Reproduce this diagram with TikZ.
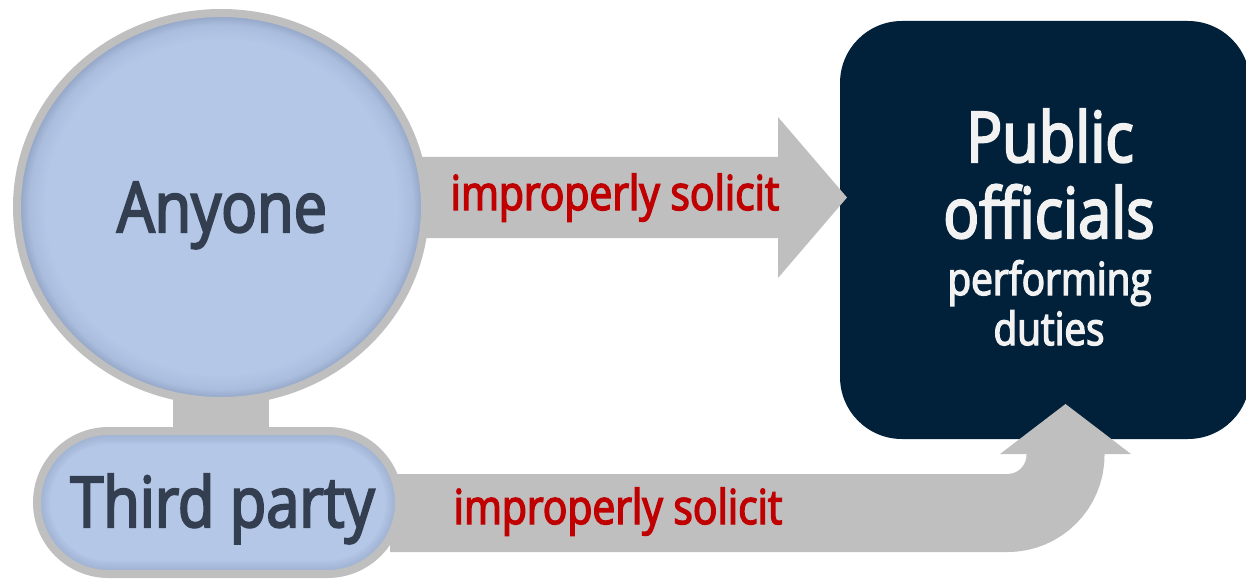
\documentclass[tikz,border=0pt]{standalone}
\usepackage{fontspec}
\setmainfont{Open Sans}[FakeStretch=0.85, FakeBold=3]
\definecolor{blobfill}{HTML}{B4C7E7}
\definecolor{blobrim}{HTML}{8C9FC0}
\definecolor{arrowgray}{HTML}{BFBFBF}
\definecolor{boxdark}{HTML}{01203A}
\definecolor{txtdark}{HTML}{333F50}
\definecolor{txtlight}{HTML}{F2F2F2}
\definecolor{txtred}{HTML}{C00000}
\pgfdeclareradialshading{blobshade}{\pgfpoint{0bp}{0bp}}{color(0bp)=(blobfill); color(21.5bp)=(blobfill); color(23.5bp)=(blobfill!75!blobrim); color(25bp)=(blobrim); color(50bp)=(blobrim)}
\tikzset{
  bigdark/.style={anchor=base, text=txtdark, inner sep=0pt, font=\fontsize{70}{84}\selectfont},
  redlabel/.style={anchor=base, text=txtred, inner sep=0pt, font=\fontsize{48}{56}\selectfont},
  bigwhite/.style={anchor=base, text=txtlight, inner sep=0pt, font=\fontsize{70}{84}\selectfont},
  smallwhite/.style={anchor=base, text=txtlight, inner sep=0pt, font=\fontsize{45.5}{52}\selectfont},
  rimline/.style={draw=blobrim},
  grayborder/.style={draw=arrowgray, line width=8pt},
}
\begin{document}
\begin{tikzpicture}[x=1pt,y=-1pt]
\useasboundingbox (0,0) rectangle (1246,580);
% dark box
\fill[boxdark, rounded corners=62pt] (840,21) rectangle (1250,439);
% arrow 1
\fill[arrowgray] (410,157) -- (778,157) -- (778,117) -- (847,197.5) -- (778,278) -- (778,238) -- (410,238) -- cycle;
% arrow 2
\draw[arrowgray, line width=78pt, rounded corners=58pt] (390,513) -- (1065.5,513) -- (1065.5,452);
\fill[arrowgray] (1000,454) -- (1065.5,404) -- (1131,454) -- cycle;
% bar between circle and pill
\fill[arrowgray] (173,380) rectangle (269,440);
% circle (slightly wide ellipse)
\shade[shading=blobshade] (221,207) ellipse [x radius=204pt, y radius=194pt];
\draw[grayborder] (221,207) ellipse [x radius=204pt, y radius=194pt];
% pill
\fill[blobfill, rounded corners=71.5pt] (37,431) rectangle (399,574);
\begin{scope}
  \clip[rounded corners=71.5pt] (37,431) rectangle (399,574);
  \foreach \i in {1,...,12}
    \draw[rimline, line width=2.2*\i pt, opacity=0.055, rounded corners=71.5pt] (37,431) rectangle (399,574);
\end{scope}
\draw[grayborder, rounded corners=71.5pt] (37,431) rectangle (399,574);
% texts
\node[bigdark] (anyone) at (222,232) {Anyone};
\node[bigdark] (third) at (222.5,527) {Third party};
\node[redlabel] (sol1) at (615,210) {improperly solicit};
\node[redlabel] (sol2) at (618,524) {improperly solicit};
\node[bigwhite] (public) at (1050,162) {Public};
\node[bigwhite] (officials) at (1049,238) {officials};
\node[smallwhite] (performing) at (1049.5,295) {performing};
\node[smallwhite] (duties) at (1049,345) {duties};
\end{tikzpicture}
\end{document}
